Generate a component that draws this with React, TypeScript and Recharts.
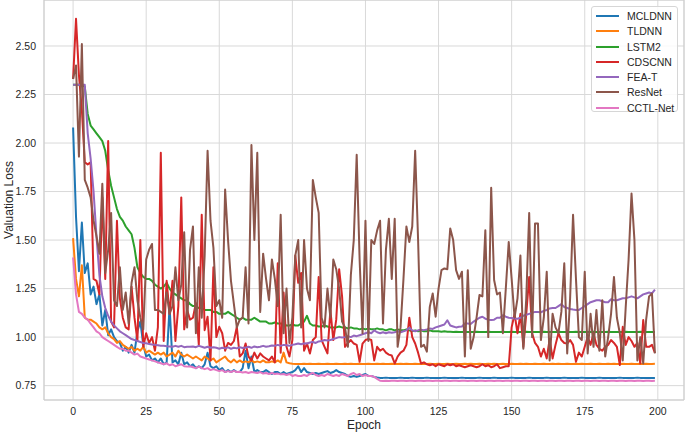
import React from 'react';
import { LineChart, Line, XAxis, YAxis, CartesianGrid, ReferenceArea } from 'recharts';

const epochs: number[] = Array.from({ length: 200 }, (_, i) => i);

const xTicks = [0, 25, 50, 75, 100, 125, 150, 175, 200];
const yTicks = [0.75, 1.0, 1.25, 1.5, 1.75, 2.0, 2.25, 2.5];

const mcldnn = [
  2.08, 1.62, 1.34, 1.59, 1.33, 1.38, 1.22, 1.26, 1.17, 1.22,
  1.06, 1.14, 1.01, 1.04, 1.0, 0.98, 0.97, 0.93, 0.95, 0.92,
  0.96, 0.92, 1.03, 1.08, 0.96, 0.9, 0.91, 0.88, 0.89, 0.87,
  0.89, 0.86, 0.87, 1.16, 0.87, 0.88, 0.86, 0.92, 0.86, 0.87,
  0.85, 0.86, 0.84, 0.85, 0.84, 0.86, 0.92, 0.85, 0.84, 0.85,
  0.83, 0.84, 0.82, 0.83, 0.82, 0.83, 0.82, 0.82, 0.84, 0.93,
  0.84, 0.9, 0.82, 0.83, 0.82, 0.82, 0.83, 0.82, 0.81, 0.82,
  0.82, 0.81, 0.82, 0.81, 0.815, 0.82, 0.83, 0.85, 0.82, 0.84,
  0.82, 0.815, 0.81, 0.815, 0.81, 0.815, 0.82, 0.825, 0.815, 0.82,
  0.83, 0.82, 0.815, 0.81, 0.8, 0.795, 0.8, 0.795, 0.8, 0.805,
  0.81, 0.8, 0.8, 0.795, 0.792, 0.79, 0.79, 0.791, 0.79, 0.79,
  0.79, 0.79, 0.791, 0.79, 0.79, 0.79, 0.791, 0.79, 0.79, 0.79,
  0.79, 0.791, 0.79, 0.79, 0.79, 0.79, 0.79, 0.791, 0.79, 0.79,
  0.79, 0.79, 0.79, 0.791, 0.79, 0.79, 0.79, 0.79, 0.79, 0.791,
  0.79, 0.79, 0.79, 0.79, 0.791, 0.79, 0.79, 0.79, 0.79, 0.79,
  0.791, 0.79, 0.79, 0.79, 0.79, 0.79, 0.791, 0.79, 0.79, 0.79,
  0.79, 0.79, 0.791, 0.79, 0.79, 0.79, 0.79, 0.79, 0.791, 0.79,
  0.79, 0.79, 0.79, 0.79, 0.791, 0.79, 0.79, 0.79, 0.79, 0.79,
  0.791, 0.79, 0.79, 0.79, 0.79, 0.79, 0.79, 0.791, 0.79, 0.79,
  0.79, 0.79, 0.79, 0.791, 0.79, 0.79, 0.79, 0.79, 0.79, 0.79,
];

const tldnn = [
  1.51, 1.3, 1.21, 1.37, 1.1, 1.09, 1.09, 1.08, 1.07, 1.05,
  1.04, 1.05, 1.02, 1.0, 0.99, 0.97, 0.98, 0.96, 0.95, 0.94,
  0.95, 0.93, 0.94, 0.93, 0.95, 0.92, 0.93, 0.92, 0.91, 0.92,
  0.91, 0.92, 0.9, 0.91, 0.92, 0.9, 0.93, 0.91, 0.9, 0.91,
  0.9, 0.89, 0.9, 0.89, 0.88, 0.9, 0.89, 0.88, 0.89, 0.87,
  0.88, 0.89, 0.9, 0.88, 0.87, 0.885, 0.87, 0.88, 0.87, 0.875,
  0.87, 0.88, 0.87, 0.875, 0.87, 0.88, 0.87, 0.87, 0.875, 0.87,
  0.88, 0.87, 0.92, 0.87, 0.865, 0.863, 0.862, 0.862, 0.862, 0.863,
  0.862, 0.863, 0.862, 0.862, 0.863, 0.862, 0.862, 0.863, 0.862, 0.862,
  0.863, 0.862, 0.862, 0.863, 0.862, 0.863, 0.862, 0.862, 0.863, 0.862,
  0.862, 0.863, 0.862, 0.862, 0.863, 0.862, 0.863, 0.862, 0.862, 0.863,
  0.862, 0.862, 0.863, 0.862, 0.863, 0.862, 0.862, 0.863, 0.862, 0.862,
  0.863, 0.862, 0.863, 0.862, 0.862, 0.863, 0.862, 0.862, 0.863, 0.862,
  0.862, 0.863, 0.862, 0.862, 0.863, 0.862, 0.863, 0.862, 0.862, 0.863,
  0.862, 0.862, 0.863, 0.862, 0.863, 0.862, 0.862, 0.863, 0.862, 0.862,
  0.863, 0.862, 0.862, 0.863, 0.862, 0.863, 0.862, 0.862, 0.863, 0.862,
  0.862, 0.863, 0.862, 0.862, 0.863, 0.862, 0.863, 0.862, 0.862, 0.863,
  0.862, 0.862, 0.863, 0.862, 0.863, 0.862, 0.862, 0.863, 0.862, 0.862,
  0.863, 0.862, 0.862, 0.863, 0.862, 0.863, 0.862, 0.862, 0.863, 0.862,
  0.862, 0.863, 0.862, 0.862, 0.863, 0.862, 0.863, 0.862, 0.862, 0.863,
];

const lstm2 = [
  2.3, 2.3, 2.3, 2.3, 2.29, 2.15, 2.09, 2.07, 2.05, 2.03,
  2.01, 1.96, 1.86, 1.78, 1.72, 1.66, 1.62, 1.6, 1.57, 1.55,
  1.53, 1.46, 1.36, 1.33, 1.31, 1.3, 1.3, 1.29, 1.27, 1.26,
  1.25, 1.26, 1.28, 1.25, 1.23, 1.22, 1.21, 1.2, 1.19, 1.19,
  1.17, 1.16, 1.16, 1.15, 1.15, 1.14, 1.14, 1.14, 1.13, 1.13,
  1.12, 1.12, 1.12, 1.13, 1.12, 1.11, 1.1, 1.09, 1.1, 1.09,
  1.09, 1.09, 1.1, 1.09, 1.08, 1.08, 1.08, 1.07, 1.07, 1.075,
  1.07, 1.07, 1.065, 1.06, 1.06, 1.065, 1.06, 1.06, 1.07, 1.08,
  1.11, 1.07, 1.06, 1.06, 1.055, 1.055, 1.06, 1.055, 1.05, 1.05,
  1.05, 1.055, 1.05, 1.05, 1.045, 1.05, 1.045, 1.045, 1.04, 1.045,
  1.04, 1.045, 1.04, 1.04, 1.045, 1.04, 1.04, 1.035, 1.04, 1.04,
  1.035, 1.04, 1.035, 1.035, 1.04, 1.035, 1.03, 1.035, 1.03, 1.035,
  1.03, 1.03, 1.035, 1.03, 1.03, 1.03, 1.028, 1.03, 1.028, 1.028,
  1.027, 1.028, 1.027, 1.027, 1.028, 1.027, 1.027, 1.027, 1.028, 1.027,
  1.027, 1.027, 1.028, 1.027, 1.027, 1.027, 1.027, 1.028, 1.027, 1.027,
  1.028, 1.027, 1.027, 1.027, 1.027, 1.028, 1.027, 1.027, 1.027, 1.027,
  1.027, 1.028, 1.027, 1.027, 1.027, 1.027, 1.028, 1.027, 1.027, 1.027,
  1.027, 1.027, 1.028, 1.027, 1.027, 1.027, 1.027, 1.027, 1.028, 1.027,
  1.027, 1.027, 1.027, 1.028, 1.027, 1.027, 1.027, 1.027, 1.027, 1.028,
  1.027, 1.027, 1.027, 1.027, 1.028, 1.027, 1.027, 1.027, 1.027, 1.027,
];

const cdscnn = [
  2.33, 2.64, 2.35, 2.17, 1.9, 1.89, 1.9, 1.3, 1.29, 1.22,
  1.72, 1.3, 2.01, 1.08, 1.05, 1.6, 1.2, 1.1, 1.05, 1.04,
  1.26, 1.1, 0.98, 1.5, 0.95, 1.02, 0.97, 1.0, 0.93, 1.05,
  1.95, 0.98, 1.29, 1.12, 1.29, 0.98, 1.16, 1.72, 1.04, 1.14,
  1.09, 1.1, 1.175, 0.96, 1.63, 1.036, 1.105, 0.88, 1.36, 1.0,
  1.053, 1.02, 0.93, 0.97, 0.96, 0.98, 1.053, 0.9, 0.916, 0.967,
  0.9, 0.88, 0.92, 0.89, 0.916, 0.9, 0.89, 0.88, 0.9, 0.87,
  1.38, 0.92, 1.23, 0.95, 0.9, 0.985, 1.42, 1.28, 1.33, 0.93,
  0.967, 0.916, 0.985, 1.0, 1.31, 0.985, 0.95, 0.916, 1.14, 0.985,
  1.09, 1.35, 1.21, 0.95, 0.97, 0.985, 0.967, 0.96, 0.873, 0.967,
  0.985, 0.99, 0.985, 0.88, 0.95, 0.93, 0.94, 0.92, 0.91, 0.905,
  0.864, 0.9, 0.92, 0.93, 0.96, 1.1, 1.0, 0.967, 0.92, 0.864,
  0.87, 0.86, 0.855, 0.86, 0.85, 0.86, 0.855, 0.85, 0.86, 0.855,
  0.86, 0.85, 0.855, 0.85, 0.845, 0.85, 0.855, 0.85, 0.845, 0.85,
  0.86, 0.85, 0.855, 0.845, 0.85, 0.86, 0.84, 0.845, 0.85, 0.85,
  1.05, 1.12, 1.02, 1.12, 0.95, 1.12, 1.31, 1.02, 0.97, 0.95,
  0.9, 0.94, 0.89, 0.99, 0.89, 0.96, 1.02, 0.985, 0.97, 0.967,
  0.985, 0.96, 0.873, 0.92, 0.9, 0.95, 1.0, 0.96, 1.02, 0.96,
  0.94, 0.93, 0.95, 0.96, 0.985, 0.97, 0.95, 0.856, 1.053, 0.96,
  1.0, 0.98, 0.95, 0.97, 0.864, 1.088, 0.95, 0.95, 0.96, 0.918,
];

const feaT = [
  2.3, 2.3, 2.3, 2.3, 2.3, 2.05, 1.92, 1.75, 1.52, 1.32,
  1.21, 1.15, 1.11, 1.08, 1.06, 1.045, 1.03, 1.02, 1.01, 1.0,
  0.99, 0.985, 0.98, 0.975, 0.97, 0.968, 0.965, 0.962, 0.96, 0.958,
  0.955, 0.955, 0.953, 0.952, 0.95, 0.955, 0.95, 0.955, 0.948, 0.95,
  0.95, 0.952, 0.948, 0.955, 0.95, 0.945, 0.95, 0.945, 0.948, 0.945,
  0.94, 0.945, 0.942, 0.947, 0.94, 0.945, 0.942, 0.948, 0.944, 0.946,
  0.95, 0.945, 0.952, 0.948, 0.95, 0.955, 0.95, 0.953, 0.957, 0.955,
  0.96, 0.955, 0.96, 0.958, 0.955, 0.96, 0.963, 0.967, 0.963, 0.968,
  0.967, 0.972, 0.975, 0.97, 0.978, 0.98, 0.985, 0.983, 0.985, 0.99,
  0.995, 1.0, 0.998, 1.0, 1.005, 1.0, 1.008, 1.005, 1.01, 1.015,
  1.02, 1.025, 1.02, 1.035, 1.025, 1.02, 1.025, 1.02, 1.025, 1.022,
  1.025, 1.03, 1.025, 1.03, 1.035, 1.048, 1.035, 1.03, 1.035, 1.038,
  1.036, 1.04, 1.045, 1.042, 1.05, 1.055, 1.06, 1.065, 1.087, 1.06,
  1.055, 1.05, 1.053, 1.055, 1.07, 1.07, 1.068, 1.08, 1.09, 1.1,
  1.105, 1.095, 1.09, 1.088, 1.09, 1.1, 1.1, 1.113, 1.105, 1.1,
  1.098, 1.096, 1.095, 1.1, 1.11, 1.115, 1.12, 1.125, 1.13, 1.13,
  1.128, 1.135, 1.14, 1.148, 1.15, 1.15, 1.16, 1.17, 1.155, 1.15,
  1.145, 1.142, 1.14, 1.14, 1.15, 1.16, 1.17, 1.18, 1.185, 1.19,
  1.19, 1.185, 1.18, 1.18, 1.195, 1.19, 1.19, 1.195, 1.2, 1.2,
  1.205, 1.21, 1.205, 1.2, 1.21, 1.22, 1.225, 1.23, 1.225, 1.245,
];

const resnet = [
  2.33, 2.4, 1.93, 2.51, 1.81, 1.77, 1.72, 1.6, 1.52, 1.43,
  1.79, 1.33, 1.45, 1.64, 1.19, 1.16, 1.36, 1.14, 1.23, 1.07,
  1.28, 1.36, 1.19, 1.1, 1.04, 1.4, 1.45, 1.48, 1.14, 1.14,
  1.13, 1.12, 1.23, 1.12, 1.16, 1.36, 1.19, 1.27, 1.54, 1.05,
  1.45, 1.57, 1.02, 1.36, 1.1, 1.42, 1.96, 1.6, 1.46, 1.16,
  1.19, 1.1, 1.76, 1.5, 1.29, 1.17, 1.05, 1.09, 1.1, 1.36,
  1.07, 1.99, 1.5, 1.95, 1.13, 1.43, 1.3, 1.19, 1.4, 1.3,
  1.16, 1.63, 1.02, 1.25, 0.97, 1.1, 1.42, 1.5, 1.05, 1.5,
  1.25, 1.19, 1.81, 1.72, 1.64, 1.1, 1.05, 1.25, 1.1, 1.4,
  1.35, 1.25, 1.08, 1.05, 0.95, 1.32, 1.5, 1.94, 1.4, 1.02,
  1.6, 0.98, 1.5, 1.48, 1.55, 1.6, 1.07, 1.45, 1.61, 1.3,
  1.61, 0.95, 1.05, 1.3, 1.57, 1.49, 1.57, 1.96, 1.5, 0.95,
  0.96, 0.925, 1.156, 1.225, 1.105, 1.25, 1.345, 1.354, 1.35, 1.56,
  1.5, 1.345, 1.3, 1.337, 0.9, 1.345, 0.94, 1.0, 1.1, 1.217,
  1.21, 1.55, 1.0, 1.77, 1.294, 1.22, 1.23, 1.02, 1.25, 1.49,
  1.3, 1.1, 1.2, 1.42, 0.94, 1.2, 1.64, 1.0, 1.586, 1.586,
  0.985, 1.1, 1.337, 0.88, 1.12, 1.05, 1.02, 1.13, 1.38, 0.916,
  1.2, 1.63, 1.3, 1.0, 0.985, 1.337, 0.916, 1.12, 0.95, 1.14,
  0.93, 1.19, 0.9, 1.0, 1.12, 1.31, 1.1, 1.02, 0.88, 1.15,
  1.4, 1.74, 1.5, 0.88, 1.0, 0.864, 1.09, 1.21, 1.225, 0.916,
];

const cctlNet = [
  1.41, 1.22, 1.13, 1.12, 1.1, 1.09, 1.07, 1.05, 1.03, 1.02,
  1.0, 0.99, 0.98, 0.97, 0.96, 0.95, 0.94, 0.94, 0.93, 0.93,
  0.92, 0.91, 0.915, 0.9, 0.895, 0.89, 0.885, 0.88, 0.875, 0.87,
  0.865, 0.86, 0.865, 0.855, 0.86, 0.85, 0.855, 0.86, 0.85, 0.848,
  0.85, 0.845, 0.84, 0.848, 0.84, 0.835, 0.84, 0.83, 0.835, 0.83,
  0.825, 0.83, 0.82, 0.825, 0.82, 0.826, 0.82, 0.822, 0.818, 0.82,
  0.815, 0.82, 0.818, 0.815, 0.82, 0.812, 0.815, 0.81, 0.815, 0.81,
  0.812, 0.808, 0.81, 0.805, 0.81, 0.8, 0.805, 0.8, 0.8, 0.805,
  0.8, 0.81, 0.815, 0.805, 0.8, 0.805, 0.8, 0.81, 0.805, 0.8,
  0.805, 0.8, 0.81, 0.805, 0.8, 0.81, 0.815, 0.805, 0.81, 0.8,
  0.805, 0.8, 0.8, 0.795, 0.785, 0.775, 0.774, 0.775, 0.774, 0.775,
  0.775, 0.774, 0.775, 0.775, 0.774, 0.775, 0.775, 0.774, 0.775, 0.775,
  0.774, 0.775, 0.775, 0.774, 0.775, 0.775, 0.774, 0.775, 0.775, 0.774,
  0.775, 0.775, 0.774, 0.775, 0.775, 0.774, 0.775, 0.775, 0.774, 0.775,
  0.775, 0.774, 0.775, 0.775, 0.774, 0.775, 0.775, 0.774, 0.775, 0.775,
  0.774, 0.775, 0.775, 0.774, 0.775, 0.775, 0.774, 0.775, 0.775, 0.774,
  0.775, 0.775, 0.774, 0.775, 0.775, 0.774, 0.775, 0.775, 0.774, 0.775,
  0.775, 0.774, 0.775, 0.775, 0.774, 0.775, 0.775, 0.774, 0.775, 0.775,
  0.774, 0.775, 0.775, 0.774, 0.775, 0.775, 0.774, 0.775, 0.775, 0.774,
  0.775, 0.775, 0.774, 0.775, 0.775, 0.774, 0.775, 0.775, 0.774, 0.775,
];

const seriesNames = ['MCLDNN', 'TLDNN', 'LSTM2', 'CDSCNN', 'FEA-T', 'ResNet', 'CCTL-Net'];
const seriesValues = [mcldnn, tldnn, lstm2, cdscnn, feaT, resnet, cctlNet];
const seriesColors = ['#1f77b4', '#ff7f0e', '#2ca02c', '#d62728', '#9467bd', '#8c564b', '#e377c2'];

const data = epochs.map((e, i) => {
  const row: Record<string, number> = { epoch: e };
  seriesNames.forEach((n, k) => {
    row[n] = seriesValues[k][i];
  });
  return row;
});

const FONT = '"Liberation Sans", Arial, sans-serif';
const TEXT = '#262626';

const Legend = () => (
  <div
    style={{
      position: 'absolute',
      left: 591,
      top: 6,
      width: 87,
      height: 106,
      border: '1px solid #d6d6d6',
      borderRadius: 3,
      background: 'rgba(255,255,255,0.85)',
      fontFamily: FONT,
      fontSize: 10.5,
      color: TEXT,
      boxSizing: 'border-box',
    }}
  >
    {seriesNames.map((n, i) => (
      <div
        key={n}
        style={{
          position: 'absolute',
          left: 0,
          top: 2 + i * 15.25,
          height: 14,
          width: 86,
        }}
      >
        <div style={{ position: 'absolute', left: 4, top: 6, width: 23, height: 2, background: seriesColors[i] }} />
        <span style={{ position: 'absolute', left: 35, top: 0, lineHeight: '14px', whiteSpace: 'nowrap' }}>{n}</span>
      </div>
    ))}
  </div>
);

export default function App() {
  return (
    <div style={{ position: 'relative', width: 685, height: 433, background: '#fff' }}>
      <style>{'body{margin:0;}'}</style>
      <LineChart
        width={685}
        height={433}
        data={data}
        margin={{ top: 0, right: 1, bottom: 0, left: 0 }}
      >
        <CartesianGrid stroke="#d9d9d9" strokeWidth={1} />
        <XAxis
          type="number"
          dataKey="epoch"
          domain={[-9.95, 208.95]}
          ticks={xTicks}
          allowDataOverflow
          height={33}
          tickLine={false}
          axisLine={false}
          tick={{ fill: TEXT, fontSize: 10.5, fontFamily: FONT }}
          label={{ value: 'Epoch', position: 'insideBottom', offset: 4, fill: TEXT, fontSize: 12, fontFamily: FONT }}
        />
        <YAxis
          type="number"
          domain={[0.676, 2.737]}
          ticks={yTicks}
          allowDataOverflow
          width={44}
          tickLine={false}
          axisLine={false}
          tickFormatter={(v: number) => v.toFixed(2)}
          tick={{ fill: TEXT, fontSize: 10.5, fontFamily: FONT }}
          label={{ value: 'Valuation Loss', angle: -90, position: 'insideLeft', offset: 0, dx: 9, fill: TEXT, fontSize: 12, fontFamily: FONT, style: { textAnchor: 'middle' } }}
        />
        <ReferenceArea x1={-9.95} x2={208.95} y1={0.676} y2={2.737} fill="none" stroke="#cccccc" strokeWidth={1} ifOverflow="visible" />
        {seriesNames.map((n, i) => (
          <Line
            key={n}
            type="linear"
            dataKey={n}
            stroke={seriesColors[i]}
            strokeWidth={2}
            strokeLinejoin="round"
            dot={false}
            activeDot={false}
            isAnimationActive={false}
          />
        ))}
      </LineChart>
      <Legend />
    </div>
  );
}
